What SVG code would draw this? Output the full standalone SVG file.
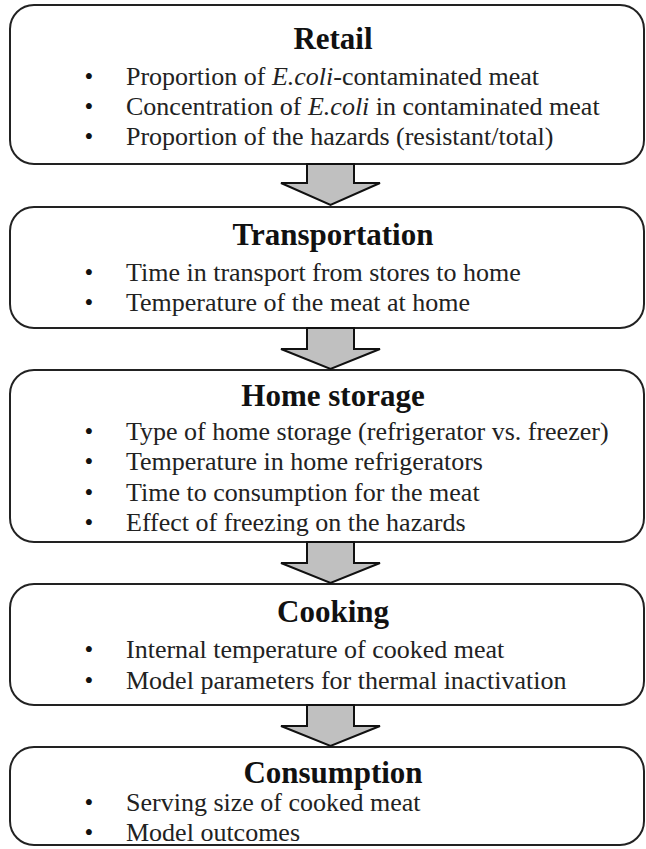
<svg xmlns="http://www.w3.org/2000/svg" width="646" height="849" viewBox="0 0 646 849">
<style>
.box{fill:#fff;stroke:#222;stroke-width:2}
.arr{fill:#c0c0c0;stroke:#111;stroke-width:2;stroke-linejoin:miter}
.t{font-family:"Liberation Serif","Times New Roman",serif;font-weight:bold;font-size:31px;fill:#111;text-anchor:middle}
.b{font-family:"Liberation Serif","Times New Roman",serif;font-size:26px;fill:#222}
.d{font-family:"Liberation Serif","Times New Roman",serif;font-size:25px;fill:#111;text-anchor:middle}
</style>
<rect width="646" height="849" fill="#fff"/>
<g id="retail">
<rect class="box" x="10" y="5" width="634" height="159" rx="24"/>
<text class="t" x="333" y="49">Retail</text>
<text class="d" x="89" y="85">•</text><text class="b" x="126" y="85">Proportion of <tspan font-style="italic">E.coli</tspan>-contaminated meat</text>
<text class="d" x="89" y="115">•</text><text class="b" x="126" y="115">Concentration of <tspan font-style="italic">E.coli</tspan> in contaminated meat</text>
<text class="d" x="89" y="145">•</text><text class="b" x="126" y="145">Proportion of the hazards (resistant/total)</text>
</g>
<g id="transportation">
<rect class="box" x="10" y="207" width="634" height="121" rx="24"/>
<text class="t" x="333" y="245">Transportation</text>
<text class="d" x="89" y="281">•</text><text class="b" x="126" y="281">Time in transport from stores to home</text>
<text class="d" x="89" y="311">•</text><text class="b" x="126" y="311">Temperature of the meat at home</text>
</g>
<g id="home-storage">
<rect class="box" x="10" y="370" width="634" height="172" rx="24"/>
<text class="t" x="333" y="406">Home storage</text>
<text class="d" x="89" y="440">•</text><text class="b" x="126" y="440">Type of home storage (refrigerator vs. freezer)</text>
<text class="d" x="89" y="470">•</text><text class="b" x="126" y="470">Temperature in home refrigerators</text>
<text class="d" x="89" y="501">•</text><text class="b" x="126" y="501">Time to consumption for the meat</text>
<text class="d" x="89" y="531">•</text><text class="b" x="126" y="531">Effect of freezing on the hazards</text>
</g>
<g id="cooking">
<rect class="box" x="10" y="584" width="634" height="121" rx="24"/>
<text class="t" x="333" y="622">Cooking</text>
<text class="d" x="89" y="658">•</text><text class="b" x="126" y="658">Internal temperature of cooked meat</text>
<text class="d" x="89" y="689">•</text><text class="b" x="126" y="689">Model parameters for thermal inactivation</text>
</g>
<g id="consumption">
<rect class="box" x="10" y="747" width="634" height="98" rx="24"/>
<text class="t" x="333" y="783">Consumption</text>
<text class="d" x="89" y="811">•</text><text class="b" x="126" y="811">Serving size of cooked meat</text>
<text class="d" x="89" y="841">•</text><text class="b" x="126" y="841">Model outcomes</text>
</g>
<g id="connectors">
<polygon class="arr" points="307,164 354,164 354,183 380,183 330.5,205 281,183 307,183"/>
<polygon class="arr" points="307,328 354,328 354,349 380,349 330.5,369 281,349 307,349"/>
<polygon class="arr" points="307,542 354,542 354,563 380,563 330.5,583 281,563 307,563"/>
<polygon class="arr" points="307,705 354,705 354,726 380,726 330.5,746 281,726 307,726"/>
</g>
</svg>
